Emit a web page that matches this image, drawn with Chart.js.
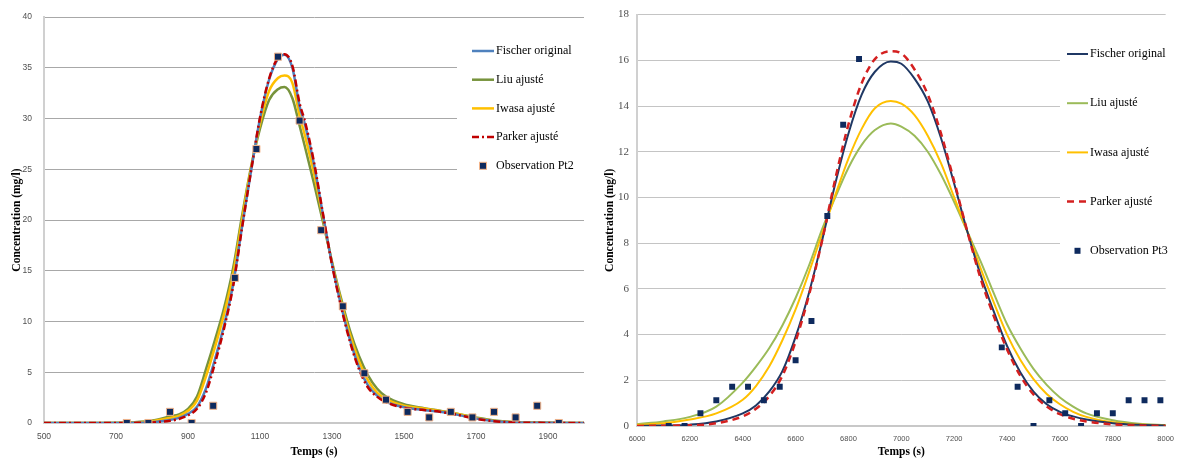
<!DOCTYPE html>
<html lang="fr">
<head>
<meta charset="UTF-8">
<title>Concentration - Pt2 / Pt3</title>
<script src="https://cdn.jsdelivr.net/npm/chart.js"></script>
<style>
    body { margin: 0; background: #fff; }
    .panel { position: absolute; top: 0; height: 459px; }
    #panelPt2 { left: 0; width: 592px; }
    #panelPt3 { left: 592px; width: 590px; }
</style>
</head>
<body>
<div class="panel" id="panelPt2"><canvas id="chartPt2"></canvas></div>
<div class="panel" id="panelPt3"><canvas id="chartPt3"></canvas></div>

<script>
// ---- Point 2 ----
const tempsPt2 = [500, 600, 700, 750, 800, 850, 875, 900, 925, 950, 975, 1000, 1025, 1050, 1075, 1100, 1125, 1150, 1168, 1190,
                  1210, 1225, 1250, 1275, 1300, 1325, 1350, 1375, 1400, 1425, 1450, 1500, 1550, 1600, 1650, 1700, 1750, 1800, 1900, 2000];
const fischerPt2 = [0, 0, 0, 0.02, 0.08, 0.3, 0.5, 0.9, 1.6, 3.4, 6.3, 9.6, 13.6, 19.3, 24.8, 30.0, 33.8, 35.9, 36.3, 35.0,
                    31.2, 29.4, 25.5, 20.5, 15.7, 11.6, 8.2, 5.5, 3.7, 2.7, 2.1, 1.55, 1.3, 1.1, 0.8, 0.45, 0.2, 0.08, 0.02, 0];
const liuPt2 = [0, 0, 0.02, 0.08, 0.25, 0.65, 0.85, 1.4, 2.6, 5.3, 8.2, 11.3, 15.2, 20.4, 25.2, 29.0, 31.8, 32.9, 33.1, 32.0,
                29.3, 27.2, 23.6, 19.8, 15.9, 12.3, 9.1, 6.6, 4.7, 3.4, 2.6, 1.85, 1.5, 1.2, 0.9, 0.55, 0.25, 0.1, 0.03, 0];
const iwasaPt2 = [0, 0, 0.01, 0.05, 0.18, 0.5, 0.7, 1.2, 2.2, 4.6, 7.5, 10.7, 14.6, 20.0, 25.1, 29.5, 32.7, 34.0, 34.24, 33.5,
                  30.3, 28.3, 24.6, 20.2, 15.8, 12.0, 8.7, 6.1, 4.2, 3.0, 2.35, 1.7, 1.45, 1.18, 0.88, 0.5, 0.22, 0.09, 0.02, 0];
const parkerPt2 = [0, 0, 0, 0.01, 0.05, 0.22, 0.4, 0.75, 1.4, 3.0, 5.9, 9.3, 13.4, 19.2, 24.8, 30.1, 33.9, 36.0, 36.35, 35.2,
                   31.5, 29.7, 25.7, 20.6, 15.6, 11.5, 8.0, 5.3, 3.5, 2.6, 2.05, 1.5, 1.3, 1.1, 0.8, 0.42, 0.18, 0.06, 0.01, 0];
const obsTempsPt2 = [730, 790, 850, 910, 970, 1030, 1090, 1150, 1210, 1270, 1330, 1390, 1450, 1510, 1570, 1630, 1690, 1750, 1810, 1870, 1930];
const obsPt2 = [0, 0, 1.1, 0, 1.7, 14.3, 27.0, 36.1, 29.8, 19.0, 11.5, 4.9, 2.3, 1.1, 0.55, 1.1, 0.55, 1.1, 0.55, 1.7, 0];
const xTicksPt2 = [500, 700, 900, 1100, 1300, 1500, 1700, 1900];
const yTicksPt2 = [0, 5, 10, 15, 20, 25, 30, 35, 40];

// ---- Point 3 ----
const tempsPt3 = [6000, 6100, 6200, 6300, 6400, 6450, 6500, 6550, 6600, 6650, 6700, 6750, 6800, 6850, 6900, 6960, 7000,
                  7050, 7100, 7150, 7200, 7250, 7300, 7350, 7400, 7450, 7500, 7550, 7600, 7650, 7700, 7800, 7900, 8000];
const fischerPt3 = [0, 0.02, 0.06, 0.2, 0.55, 0.9, 1.5, 2.4, 3.9, 5.8, 8.1, 10.6, 12.8, 14.5, 15.5, 15.95, 15.85,
                    15.2, 14.2, 12.6, 10.6, 8.5, 6.6, 5.0, 3.5, 2.35, 1.5, 0.95, 0.62, 0.42, 0.28, 0.12, 0.05, 0.02];
const liuPt3 = [0.08, 0.2, 0.4, 0.85, 1.9, 2.6, 3.4, 4.4, 5.6, 7.0, 8.6, 10.0, 11.3, 12.3, 12.95, 13.24, 13.1,
                12.7, 12.0, 11.0, 9.8, 8.5, 7.2, 5.8, 4.45, 3.4, 2.5, 1.8, 1.25, 0.85, 0.55, 0.25, 0.1, 0.04];
const iwasaPt3 = [0.05, 0.12, 0.28, 0.55, 1.15, 1.75, 2.6, 3.75, 5.1, 6.7, 8.4, 10.1, 11.7, 13.0, 13.9, 14.22, 14.1,
                  13.6, 12.7, 11.5, 10.0, 8.5, 6.9, 5.4, 4.0, 2.9, 2.05, 1.4, 0.95, 0.62, 0.4, 0.16, 0.07, 0.03];
const parkerPt3 = [0, 0.01, 0.03, 0.12, 0.42, 0.75, 1.3, 2.2, 3.7, 5.7, 8.1, 10.8, 13.2, 15.0, 16.05, 16.4, 16.3,
                   15.6, 14.5, 12.8, 10.7, 8.5, 6.45, 4.8, 3.35, 2.2, 1.38, 0.85, 0.52, 0.32, 0.2, 0.07, 0.02, 0];
const obsTempsPt3 = [6120, 6180, 6240, 6300, 6360, 6420, 6480, 6540, 6600, 6660, 6720, 6780, 6840,
                     7380, 7440, 7500, 7560, 7620, 7680, 7740, 7800, 7860, 7920, 7980];
const obsPt3 = [0, 0, 0.56, 1.13, 1.72, 1.72, 1.13, 1.72, 2.88, 4.59, 9.19, 13.18, 16.06,
                3.44, 1.72, 0, 1.13, 0.56, 0, 0.56, 0.56, 1.13, 1.13, 1.13];
const xTicksPt3 = [6000, 6200, 6400, 6600, 6800, 7000, 7200, 7400, 7600, 7800, 8000];
const yTicksPt3 = [0, 2, 4, 6, 8, 10, 12, 14, 16, 18];

Chart.defaults.font.family = '"Liberation Serif", serif';
Chart.defaults.color = '#404040';

function toPoints(xs, ys) {
    return xs.map((x, i) => ({ x: x, y: ys[i] }));
}

function fixedTicks(values) {
    return scale => { scale.ticks = values.map(v => ({ value: v })); };
}

// legend drawn inside the plot area, on a white box that hides the grid behind it
const sideLegend = {
    id: 'sideLegend',
    beforeDatasetsDraw(chart, args, opts) {
        const ctx = chart.ctx;
        ctx.save();
        ctx.fillStyle = '#fff';
        ctx.fillRect(opts.box[0], opts.box[1], opts.box[2], opts.box[3]);
        ctx.restore();
    },
    afterDraw(chart, args, opts) {
        const ctx = chart.ctx;
        ctx.save();
        ctx.font = opts.font;
        ctx.textBaseline = 'middle';
        chart.data.datasets.forEach((ds, i) => {
            const y = opts.top + i * opts.gap;
            if (ds.showLine === false) {
                const s = opts.marker;
                const cx = opts.x + opts.len / 2;
                ctx.fillStyle = ds.backgroundColor;
                ctx.fillRect(cx - s / 2, y - s / 2, s, s);
                if (ds.borderWidth) {
                    ctx.strokeStyle = ds.borderColor;
                    ctx.lineWidth = ds.borderWidth;
                    ctx.strokeRect(cx - s / 2, y - s / 2, s, s);
                }
            } else {
                ctx.beginPath();
                ctx.setLineDash(ds.borderDash || []);
                ctx.strokeStyle = ds.borderColor;
                ctx.lineWidth = ds.borderWidth;
                ctx.moveTo(opts.x, y);
                ctx.lineTo(opts.x + opts.len, y);
                ctx.stroke();
                ctx.setLineDash([]);
            }
            ctx.fillStyle = '#000';
            ctx.fillText(ds.label, opts.x + opts.len + 2, y);
        });
        ctx.restore();
    }
};

function curve(label, xs, ys, color, width, order, dash) {
    return {
        type: 'line',
        label: label,
        data: toPoints(xs, ys),
        borderColor: color,
        backgroundColor: color,
        borderWidth: width,
        borderDash: dash || [],
        pointRadius: 0,
        cubicInterpolationMode: 'monotone',
        fill: false,
        order: order
    };
}

function makeChart(id, cfg) {
    return new Chart(document.getElementById(id), {
        type: 'scatter',
        data: { datasets: cfg.datasets },
        options: {
            responsive: true,
            maintainAspectRatio: false,
            animation: false,
            layout: { padding: cfg.padding },
            plugins: {
                legend: { display: false },
                tooltip: { enabled: false },
                sideLegend: cfg.legend
            },
            scales: {
                x: {
                    type: 'linear',
                    min: cfg.xMin,
                    max: cfg.xMax,
                    afterBuildTicks: fixedTicks(cfg.xTicks),
                    afterFit: s => { s.height = cfg.xHeight; },
                    grid: { display: false, drawTicks: false },
                    border: { color: '#C8C8C8', width: 2 },
                    ticks: { padding: cfg.xTickPad, color: '#505050', font: cfg.xTickFont, callback: v => String(v) },
                    title: {
                        display: true,
                        text: 'Temps (s)',
                        color: '#000',
                        font: { family: '"Liberation Serif", serif', size: 11.5, weight: 'bold' },
                        padding: { top: 0, bottom: 0 }
                    }
                },
                y: {
                    min: cfg.yMin,
                    max: cfg.yMax,
                    afterBuildTicks: fixedTicks(cfg.yTicks),
                    afterFit: s => { s.width = cfg.yWidth; },
                    grid: {
                        drawTicks: false,
                        color: c => c.tick.value === 0 ? 'rgba(0,0,0,0)' : cfg.gridColor,
                        lineWidth: 1
                    },
                    border: { color: '#D0D0D0', width: 2 },
                    ticks: { padding: cfg.yTickPad, color: '#505050', font: cfg.yTickFont, callback: v => String(v) },
                    title: {
                        display: true,
                        text: 'Concentration (mg/l)',
                        color: '#000',
                        font: { family: '"Liberation Serif", serif', size: 11.5, weight: 'bold' },
                        padding: { top: cfg.yTitlePad, bottom: 0 }
                    }
                }
            }
        },
        plugins: [sideLegend]
    });
}

makeChart('chartPt2', {
    datasets: [
        curve('Fischer original', tempsPt2, fischerPt2, '#4F81BD', 2.5, 2),
        curve('Liu ajusté', tempsPt2, liuPt2, '#77933C', 2.5, 4),
        curve('Iwasa ajusté', tempsPt2, iwasaPt2, '#FFC000', 2.5, 3),
        curve('Parker ajusté', tempsPt2, parkerPt2, '#C00000', 2.5, 1, [7, 3, 2, 3]),
        {
            type: 'scatter',
            label: 'Observation Pt2',
            data: toPoints(obsTempsPt2, obsPt2),
            showLine: false,
            pointStyle: 'rect',
            pointRadius: 5,
            backgroundColor: '#0E2A5E',
            borderColor: '#F2B48A',
            borderWidth: 1,
            order: 0
        }
    ],
    padding: { top: 14, right: 8, left: 0, bottom: 0 },
    xMin: 500, xMax: 2000, xTicks: xTicksPt2,
    yMin: 0, yMax: 40, yTicks: yTicksPt2,
    xHeight: 36, yWidth: 44,
    xTickPad: 9, yTickPad: 12,
    xTickFont: { family: '"Liberation Sans", sans-serif', size: 8.5 },
    yTickFont: { family: '"Liberation Sans", sans-serif', size: 8.5 },
    yTitlePad: 10,
    gridColor: '#A8A8A8',
    legend: {
        box: [457, 30, 135, 160],
        x: 472, len: 22, top: 51, gap: 28.7, marker: 7,
        font: '12px "Liberation Serif", serif'
    }
});

makeChart('chartPt3', {
    datasets: [
        curve('Fischer original', tempsPt3, fischerPt3, '#1F3864', 2, 2),
        curve('Liu ajusté', tempsPt3, liuPt3, '#9BBB59', 2, 4),
        curve('Iwasa ajusté', tempsPt3, iwasaPt3, '#FFC000', 2, 3),
        curve('Parker ajusté', tempsPt3, parkerPt3, '#D42020', 2.5, 1, [7, 5]),
        {
            type: 'scatter',
            label: 'Observation Pt3',
            data: toPoints(obsTempsPt3, obsPt3),
            showLine: false,
            pointStyle: 'rect',
            pointRadius: 4.2,
            backgroundColor: '#0E2A5E',
            borderColor: '#0E2A5E',
            borderWidth: 0,
            order: 0
        }
    ],
    padding: { top: 11, right: 12, left: 0, bottom: 0 },
    xMin: 6000, xMax: 8000, xTicks: xTicksPt3,
    yMin: 0, yMax: 18, yTicks: yTicksPt3,
    xHeight: 33, yWidth: 45,
    xTickPad: 8, yTickPad: 8,
    xTickFont: { family: '"Liberation Sans", sans-serif', size: 7.5 },
    yTickFont: { family: '"Liberation Serif", serif', size: 11 },
    yTitlePad: 11,
    gridColor: '#C4C4C4',
    legend: {
        box: [468, 30, 122, 238],
        x: 475, len: 21, top: 54, gap: 49.2, marker: 6,
        font: '12px "Liberation Serif", serif'
    }
});
</script>
</body>
</html>
